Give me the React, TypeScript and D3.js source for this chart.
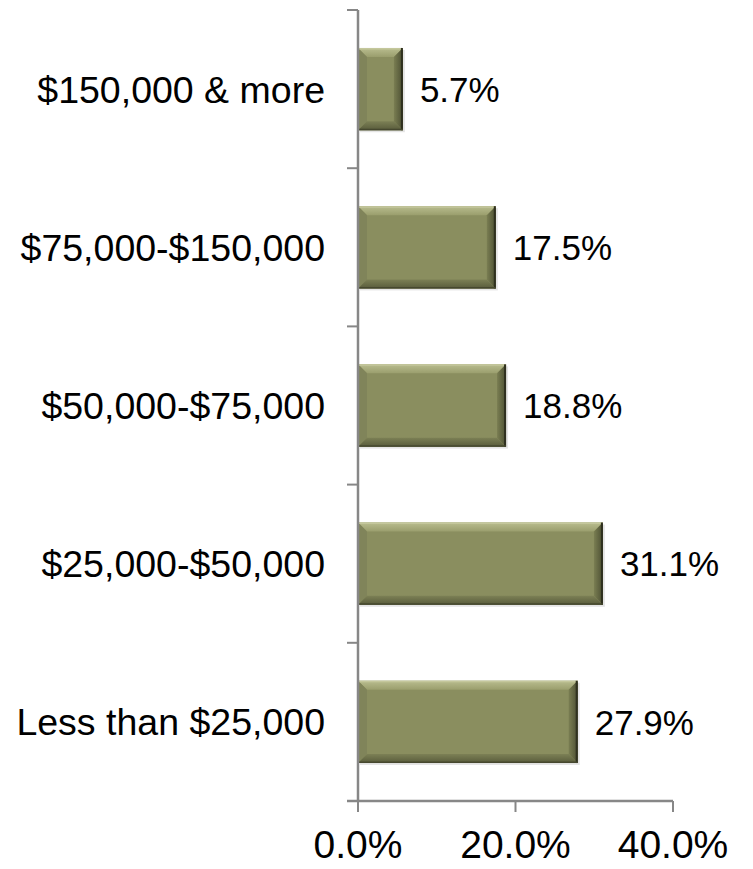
import * as d3 from "d3"

const categories = ["$150,000 & more", "$75,000-$150,000", "$50,000-$75,000", "$25,000-$50,000", "Less than $25,000"]
const values = [5.7, 17.5, 18.8, 31.1, 27.9]
const xTicks = [0, 20, 40]

const W = 753
const H = 869
const margin = { top: 10, right: 80, bottom: 68, left: 358 }
const FONT = "'Liberation Sans', Arial, sans-serif"

function BevelBar({ x, y, w, h }) {
    const b = Math.min(9, w / 2, h / 2)
    return (
        <g>
            <rect x={x + 2} y={y + 2} width={w} height={h} fill="#000" opacity={0.1} />
            <rect x={x} y={y} width={w} height={h} fill="#8a8e5f" />
            {/* top */}
            <polygon points={`${x},${y} ${x + w},${y} ${x + w - b},${y + b} ${x + b},${y + b}`} fill="url(#bevTop)" />
            {/* left */}
            <polygon points={`${x},${y} ${x + b},${y + b} ${x + b},${y + h - b} ${x},${y + h}`} fill="#80845a" />
            {/* right */}
            <polygon points={`${x + w},${y} ${x + w},${y + h} ${x + w - b},${y + h - b} ${x + w - b},${y + b}`} fill="url(#bevRight)" />
            {/* bottom */}
            <polygon points={`${x},${y + h} ${x + b},${y + h - b} ${x + w - b},${y + h - b} ${x + w},${y + h}`} fill="url(#bevBottom)" />
            <line x1={x} y1={y + 0.75} x2={x + w} y2={y + 0.75} stroke="#c4c79c" strokeWidth={1.5} />
            <line x1={x + w - 1} y1={y} x2={x + w - 1} y2={y + h} stroke="#2f301f" strokeWidth={2} />
            <line x1={x} y1={y + h - 0.75} x2={x + w} y2={y + h - 0.75} stroke="#46482f" strokeWidth={1.5} />
        </g>
    )
}

export default function App() {
    const x = d3.scaleLinear().domain([0, 40]).range([margin.left, 673])
    const y = d3
        .scaleBand()
        .domain(categories)
        .range([margin.top, H - margin.bottom])
        .padding(0)
    const barH = y.bandwidth() * 0.52
    const bounds = categories.map((c) => y(c)).concat([H - margin.bottom])
    const axisColor = "#878787"
    const y0 = H - margin.bottom

    return (
        <svg width={W} height={H} style={{ position: "absolute", left: 0, top: 0, background: "#fff" }} fontFamily={FONT}>
            <defs>
                <linearGradient id="bevTop" x1="0" y1="0" x2="0" y2="1">
                    <stop offset="0" stopColor="#b9bd8f" />
                    <stop offset="1" stopColor="#9a9e6d" />
                </linearGradient>
                <linearGradient id="bevRight" x1="0" y1="0" x2="1" y2="0">
                    <stop offset="0" stopColor="#7a7e52" />
                    <stop offset="1" stopColor="#4c4f33" />
                </linearGradient>
                <linearGradient id="bevBottom" x1="0" y1="0" x2="0" y2="1">
                    <stop offset="0" stopColor="#7c8055" />
                    <stop offset="1" stopColor="#585b3b" />
                </linearGradient>
            </defs>
            {categories.map((c, i) => {
                const cy = y(c) + y.bandwidth() / 2
                return (
                    <g key={c}>
                        <BevelBar x={x(0)} y={cy - barH / 2} w={x(values[i]) - x(0)} h={barH} />
                        <text x={x(values[i]) + 17} y={cy} dy="0.36em" fontSize={35} fill="#000">
                            {values[i].toFixed(1)}%
                        </text>
                        <text x={325} y={cy} dy="0.36em" fontSize={37.5} textAnchor="end" fill="#000">
                            {c}
                        </text>
                    </g>
                )
            })}
            {/* y axis */}
            <line x1={x(0)} y1={margin.top} x2={x(0)} y2={y0} stroke={axisColor} strokeWidth={2.5} />
            {bounds.map((b, i) => (
                <line key={i} x1={x(0) - 11} y1={b} x2={x(0)} y2={b} stroke={axisColor} strokeWidth={2} />
            ))}
            {/* x axis */}
            <line x1={x(0) - 11} y1={y0} x2={x(40)} y2={y0} stroke={axisColor} strokeWidth={2.5} />
            {xTicks.map((t) => (
                <g key={t}>
                    <line x1={x(t)} y1={y0} x2={x(t)} y2={y0 + 11} stroke={axisColor} strokeWidth={2} />
                    <text x={x(t)} y={858} fontSize={39} textAnchor="middle" fill="#000">
                        {t.toFixed(1)}%
                    </text>
                </g>
            ))}
        </svg>
    )
}
